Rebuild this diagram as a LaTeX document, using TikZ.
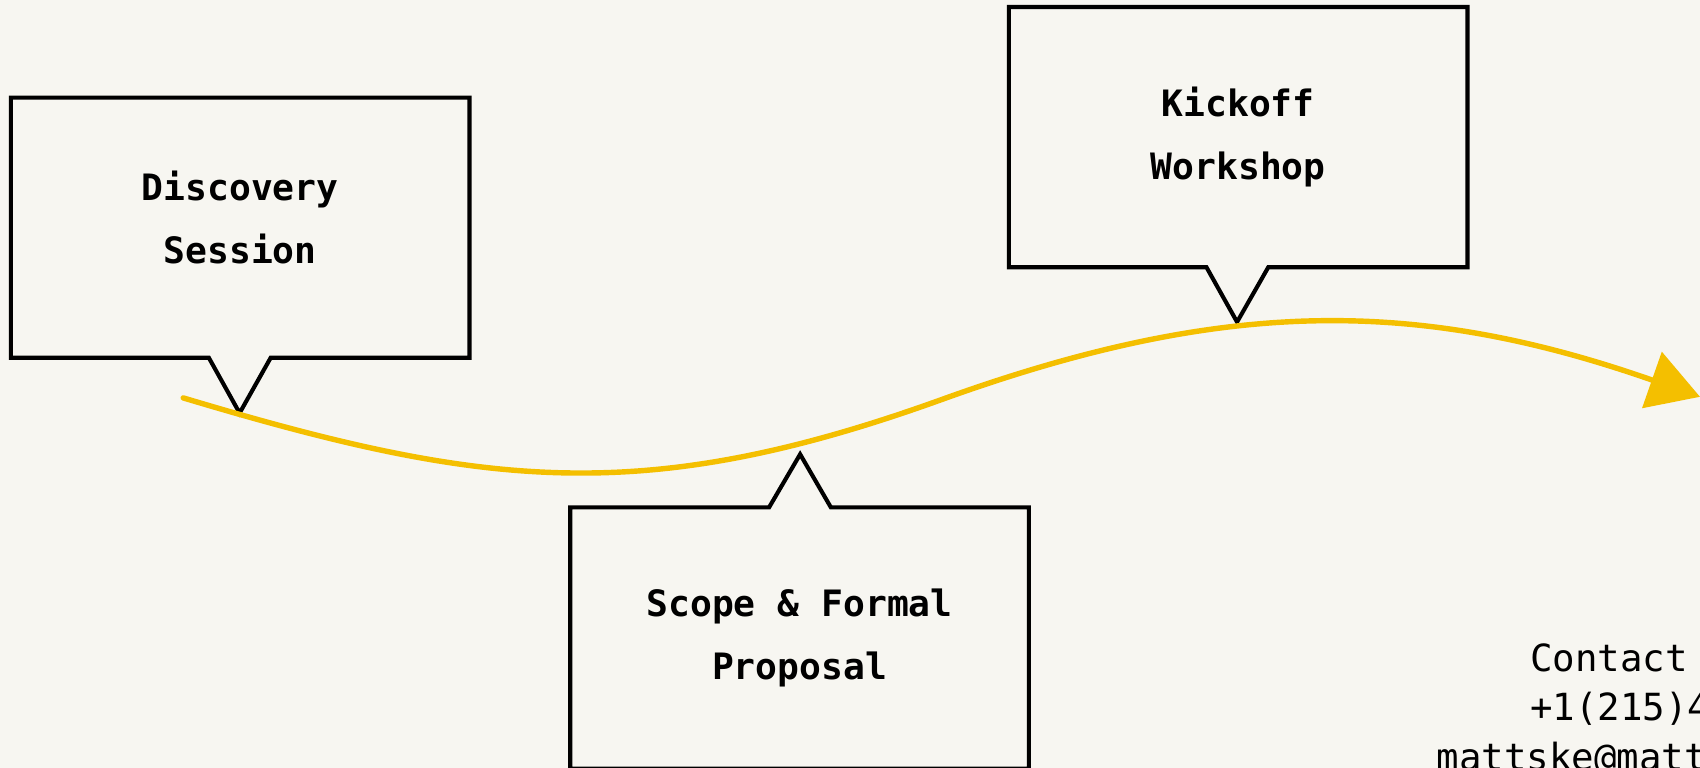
\documentclass[tikz,border=0pt]{standalone}
\usepackage{fontspec}
\setmonofont{DejaVu Sans Mono}
\usetikzlibrary{shapes.callouts,arrows.meta}
\definecolor{paper}{HTML}{F7F6F1}
\definecolor{track}{HTML}{F4BF00}

\begin{document}
\begin{tikzpicture}[x=1pt,y=-1pt,
    stage/.style={rectangle callout, draw=black, line width=3.8pt,
      minimum width=423pt, minimum height=240pt, inner sep=0pt,
      callout pointer width=57pt, align=center,
      font=\ttfamily\bfseries\fontsize{33.5}{58}\selectfont},
    contact/.style={anchor=base west, inner sep=0pt,
      font=\ttfamily\fontsize{34.5}{46}\selectfont}]
  \fill[paper] (0,0) rectangle (1568,708);
  \clip (0,0) rectangle (1568,708);
  % milestones
  \node[stage, callout absolute pointer={(221,381)}] (disc) at (221.5,210) {Discovery\\Session\rule[-20pt]{0pt}{0pt}};
  \node[stage, callout absolute pointer={(1141,297)}] (kick) at (1142,126.5) {Kickoff\\Workshop};
  \node[stage, callout absolute pointer={(738,419)}, minimum height=241pt] (scope) at (737.5,588.5) {Scope \& Formal\\Proposal};
  % timeline
  \coordinate (t0) at (169,367);
  \coordinate (t1) at (870,368);
  \coordinate (t2) at (1568,366);
  \draw[track, line width=5pt, line cap=round, -{Triangle[length=47pt,width=54pt]}]
    (t0) .. controls (446,450) and (593,468) .. (t1)
         .. controls (1130,274.4) and (1308,275) .. (t2);
  % contact
  \node[contact] (who) at (1411,619) {Contact};
  \node[contact] (phone) at (1411,665) {+1(215)4};
  \node[contact] (mail) at (1325,711) {mattske@matt};
\end{tikzpicture}
\end{document}
